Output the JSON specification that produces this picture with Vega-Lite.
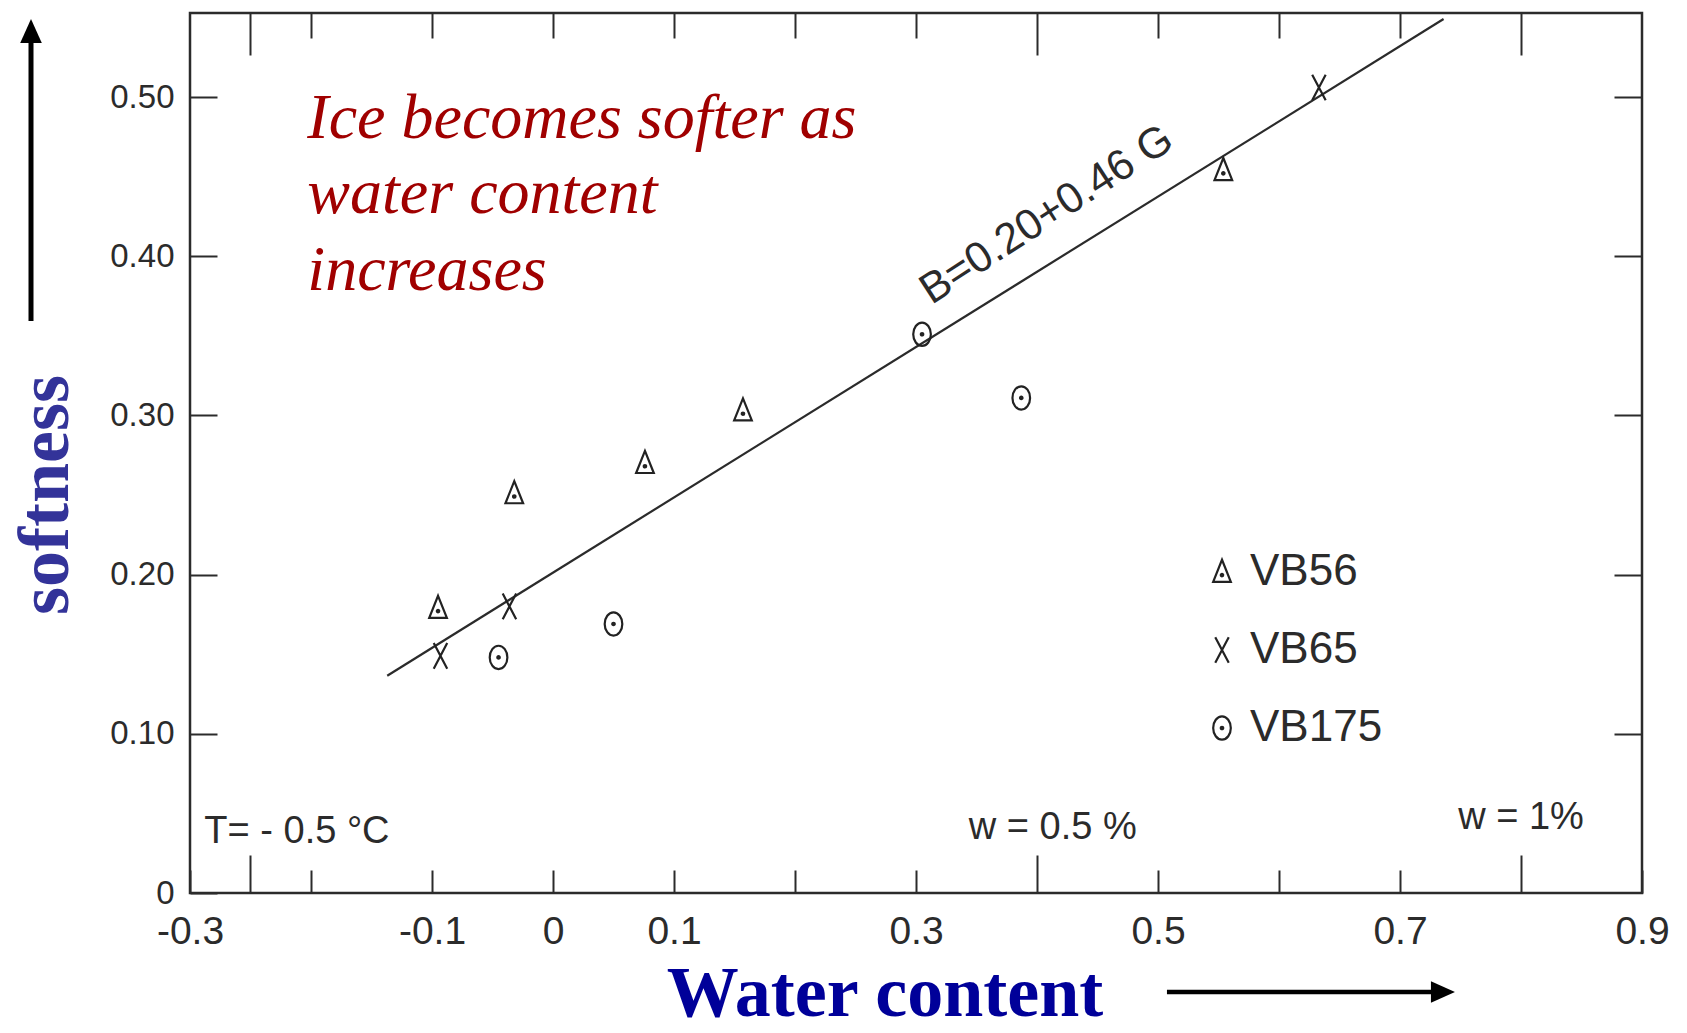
{
  "$schema": "https://vega.github.io/schema/vega-lite/v6.json",
  "width": 1452,
  "height": 880,
  "autosize": {"type": "none"},
  "padding": {"left": 190, "top": 13, "right": 45, "bottom": 140},
  "background": "white",
  "config": {
    "view": {"stroke": "#2b2b2b", "strokeWidth": 2.5},
    "axis": {"grid": false, "domain": false, "title": null}
  },
  "datasets": {
    "points": [
      {"sample": "VB56", "G": -0.095, "B": 0.179},
      {"sample": "VB56", "G": -0.032, "B": 0.251},
      {"sample": "VB56", "G": 0.076, "B": 0.270},
      {"sample": "VB56", "G": 0.157, "B": 0.303},
      {"sample": "VB56", "G": 0.554, "B": 0.454},
      {"sample": "VB65", "G": -0.093, "B": 0.149},
      {"sample": "VB65", "G": -0.036, "B": 0.180},
      {"sample": "VB65", "G": 0.633, "B": 0.506},
      {"sample": "VB175", "G": -0.045, "B": 0.148},
      {"sample": "VB175", "G": 0.050, "B": 0.169},
      {"sample": "VB175", "G": 0.305, "B": 0.351},
      {"sample": "VB175", "G": 0.387, "B": 0.311}
    ],
    "fit": [
      {"G": -0.137, "B": 0.1365},
      {"G": 0.736, "B": 0.549}
    ],
    "red": [
      {"t": "Ice becomes softer as", "G": -0.203, "B": 0.474},
      {"t": "water content", "G": -0.203, "B": 0.427},
      {"t": "increases", "G": -0.203, "B": 0.379}
    ],
    "ylab": [{"t": "softness", "G": -0.419, "B": 0.25}],
    "xlab": [{"t": "Water content", "G": 0.2744, "B": -0.0775}],
    "vshaft": [{"G": -0.4314, "B": 0.3593, "B2": 0.536}],
    "hshaft": [{"G": 0.5074, "G2": 0.732, "B": -0.0622}],
    "uphead": [{"G": -0.4314, "B": 0.5415}],
    "righthead": [{"G": 0.7355, "B": -0.0622}],
    "notes": [
      {"t": "T= - 0.5 °C", "G": -0.2116, "B": 0.0317},
      {"t": "w = 0.5 %", "G": 0.413, "B": 0.034},
      {"t": "w = 1%", "G": 0.800, "B": 0.040}
    ],
    "eq": [{"t": "B=0.20+0.46 G", "G": 0.408, "B": 0.426}]
  },
  "resolve": {"axis": {"x": "independent", "y": "independent"}},
  "layer": [
    {
      "data": {"name": "fit"},
      "mark": {"type": "line", "color": "#2b2b2b", "strokeWidth": 2.2},
      "encoding": {
        "x": {
          "field": "G", "type": "quantitative",
          "scale": {"domain": [-0.3, 0.9], "nice": false, "zero": false},
          "axis": {
            "orient": "top",
            "values": [-0.25, -0.2, -0.1, 0, 0.1, 0.2, 0.3, 0.4, 0.5, 0.6, 0.7, 0.8],
            "labels": false,
            "tickColor": "#2b2b2b",
            "tickWidth": 2,
            "tickSize": {"condition": {"test": "datum.value == -0.25 || datum.value == 0.4 || datum.value == 0.8", "value": -42}, "value": -25}
          }
        },
        "y": {
          "field": "B", "type": "quantitative",
          "scale": {"domain": [0, 0.5528], "nice": false, "zero": false},
          "axis": {
            "orient": "right",
            "values": [0.1, 0.2, 0.3, 0.4, 0.5],
            "labels": false,
            "tickColor": "#2b2b2b",
            "tickWidth": 2,
            "tickSize": -28
          }
        }
      }
    },
    {
      "data": {"name": "points"},
      "mark": {"type": "point", "filled": false, "color": "#222222", "strokeWidth": 2.2, "size": 600, "opacity": 1},
      "encoding": {
        "x": {
          "field": "G", "type": "quantitative",
          "scale": {"domain": [-0.3, 0.9], "nice": false, "zero": false},
          "axis": {
            "orient": "bottom",
            "values": [-0.3, -0.25, -0.2, -0.1, 0, 0.1, 0.2, 0.3, 0.4, 0.5, 0.6, 0.7, 0.8, 0.9],
            "labelExpr": "indexof([-0.3, -0.1, 0, 0.1, 0.3, 0.5, 0.7, 0.9], datum.value) >= 0 ? ((datum.value < 0 ? '-' : '') + (datum.value == 0 ? '0' : format(abs(datum.value), '.1f'))) : ''",
            "labelFlush": false,
            "labelOverlap": false,
            "labelBound": false,
            "labelFont": "Liberation Sans",
            "labelFontSize": 39,
            "labelColor": "#2b2b2b",
            "labelBaseline": "top",
            "labelPadding": 42,
            "tickColor": "#2b2b2b",
            "tickWidth": 2,
            "tickSize": {"condition": {"test": "datum.value == -0.25 || datum.value == 0.4 || datum.value == 0.8", "value": -38}, "value": -23}
          }
        },
        "y": {
          "field": "B", "type": "quantitative",
          "scale": {"domain": [0, 0.5528], "nice": false, "zero": false},
          "axis": {
            "orient": "left",
            "values": [0, 0.1, 0.2, 0.3, 0.4, 0.5],
            "labelExpr": "datum.value == 0 ? '0' : format(datum.value, '.2f')",
            "labelFlush": false,
            "labelOverlap": false,
            "labelFont": "Liberation Sans",
            "labelFontSize": 33,
            "labelColor": "#2b2b2b",
            "labelPadding": 43,
            "tickColor": "#2b2b2b",
            "tickWidth": 2,
            "tickSize": -27
          }
        },
        "shape": {
          "field": "sample", "type": "nominal",
          "scale": {
            "domain": ["VB56", "VB65", "VB175"],
            "range": [
              "M0,-1L0.72,0.8L-0.72,0.8ZM0.1,0.25A0.1,0.1,0,1,1,-0.1,0.25A0.1,0.1,0,1,1,0.1,0.25Z",
              "M-0.55,-1.05L0.55,1.05M0.55,-1.05L-0.55,1.05",
              "M0.72,0A0.72,0.95,0,1,1,-0.72,0A0.72,0.95,0,1,1,0.72,0ZM0.1,0A0.1,0.1,0,1,1,-0.1,0A0.1,0.1,0,1,1,0.1,0Z"
            ]
          },
          "legend": {
            "title": null,
            "orient": "none",
            "legendX": 1010,
            "legendY": 537,
            "padding": 0,
            "labelFont": "Liberation Sans",
            "labelFontSize": 44,
            "labelColor": "#2b2b2b",
            "labelOffset": 6,
            "symbolSize": 600,
            "symbolStrokeWidth": 2.2,
            "symbolStrokeColor": "#222222",
            "symbolFillColor": "transparent",
            "rowPadding": 34
          }
        }
      }
    },
    {
      "data": {"name": "red"},
      "mark": {"type": "text", "align": "left", "baseline": "alphabetic", "font": "Liberation Serif", "fontStyle": "italic", "fontSize": 64, "color": "#A00000", "clip": false},
      "encoding": {
        "x": {"field": "G", "type": "quantitative", "scale": {"domain": [-0.3, 0.9], "nice": false, "zero": false}, "axis": null},
        "y": {"field": "B", "type": "quantitative", "scale": {"domain": [0, 0.5528], "nice": false, "zero": false}, "axis": null},
        "text": {"field": "t"}
      }
    },
    {
      "data": {"name": "ylab"},
      "mark": {"type": "text", "align": "center", "baseline": "middle", "angle": 270, "font": "Liberation Serif", "fontWeight": "bold", "fontSize": 72, "color": "#333399", "clip": false},
      "encoding": {
        "x": {"field": "G", "type": "quantitative", "scale": {"domain": [-0.3, 0.9], "nice": false, "zero": false}, "axis": null},
        "y": {"field": "B", "type": "quantitative", "scale": {"domain": [0, 0.5528], "nice": false, "zero": false}, "axis": null},
        "text": {"field": "t"}
      }
    },
    {
      "data": {"name": "xlab"},
      "mark": {"type": "text", "align": "center", "baseline": "alphabetic", "font": "Liberation Serif", "fontWeight": "bold", "fontSize": 72, "color": "#000099", "clip": false},
      "encoding": {
        "x": {"field": "G", "type": "quantitative", "scale": {"domain": [-0.3, 0.9], "nice": false, "zero": false}, "axis": null},
        "y": {"field": "B", "type": "quantitative", "scale": {"domain": [0, 0.5528], "nice": false, "zero": false}, "axis": null},
        "text": {"field": "t"}
      }
    },
    {
      "data": {"name": "vshaft"},
      "mark": {"type": "rule", "color": "#000000", "strokeWidth": 5, "clip": false},
      "encoding": {
        "x": {"field": "G", "type": "quantitative", "scale": {"domain": [-0.3, 0.9], "nice": false, "zero": false}, "axis": null},
        "y": {"field": "B", "type": "quantitative", "scale": {"domain": [0, 0.5528], "nice": false, "zero": false}, "axis": null},
        "y2": {"field": "B2"}
      }
    },
    {
      "data": {"name": "hshaft"},
      "mark": {"type": "rule", "color": "#000000", "strokeWidth": 4.5, "clip": false},
      "encoding": {
        "x": {"field": "G", "type": "quantitative", "scale": {"domain": [-0.3, 0.9], "nice": false, "zero": false}, "axis": null},
        "x2": {"field": "G2"},
        "y": {"field": "B", "type": "quantitative", "scale": {"domain": [0, 0.5528], "nice": false, "zero": false}, "axis": null}
      }
    },
    {
      "data": {"name": "uphead"},
      "mark": {"type": "point", "shape": "M0,-1L0.9,1L-0.9,1Z", "filled": true, "color": "#000000", "opacity": 1, "size": 576, "clip": false},
      "encoding": {
        "x": {"field": "G", "type": "quantitative", "scale": {"domain": [-0.3, 0.9], "nice": false, "zero": false}, "axis": null},
        "y": {"field": "B", "type": "quantitative", "scale": {"domain": [0, 0.5528], "nice": false, "zero": false}, "axis": null}
      }
    },
    {
      "data": {"name": "righthead"},
      "mark": {"type": "point", "shape": "M0,-1L0.9,1L-0.9,1Z", "angle": 90, "filled": true, "color": "#000000", "opacity": 1, "size": 576, "clip": false},
      "encoding": {
        "x": {"field": "G", "type": "quantitative", "scale": {"domain": [-0.3, 0.9], "nice": false, "zero": false}, "axis": null},
        "y": {"field": "B", "type": "quantitative", "scale": {"domain": [0, 0.5528], "nice": false, "zero": false}, "axis": null}
      }
    },
    {
      "data": {"name": "notes"},
      "mark": {"type": "text", "align": "center", "baseline": "alphabetic", "font": "Liberation Sans", "fontSize": 38, "color": "#2b2b2b", "clip": false},
      "encoding": {
        "x": {"field": "G", "type": "quantitative", "scale": {"domain": [-0.3, 0.9], "nice": false, "zero": false}, "axis": null},
        "y": {"field": "B", "type": "quantitative", "scale": {"domain": [0, 0.5528], "nice": false, "zero": false}, "axis": null},
        "text": {"field": "t"}
      }
    },
    {
      "data": {"name": "eq"},
      "mark": {"type": "text", "align": "center", "baseline": "middle", "angle": 327, "font": "Liberation Sans", "fontSize": 43, "color": "#2b2b2b", "clip": false},
      "encoding": {
        "x": {"field": "G", "type": "quantitative", "scale": {"domain": [-0.3, 0.9], "nice": false, "zero": false}, "axis": null},
        "y": {"field": "B", "type": "quantitative", "scale": {"domain": [0, 0.5528], "nice": false, "zero": false}, "axis": null},
        "text": {"field": "t"}
      }
    }
  ]
}
